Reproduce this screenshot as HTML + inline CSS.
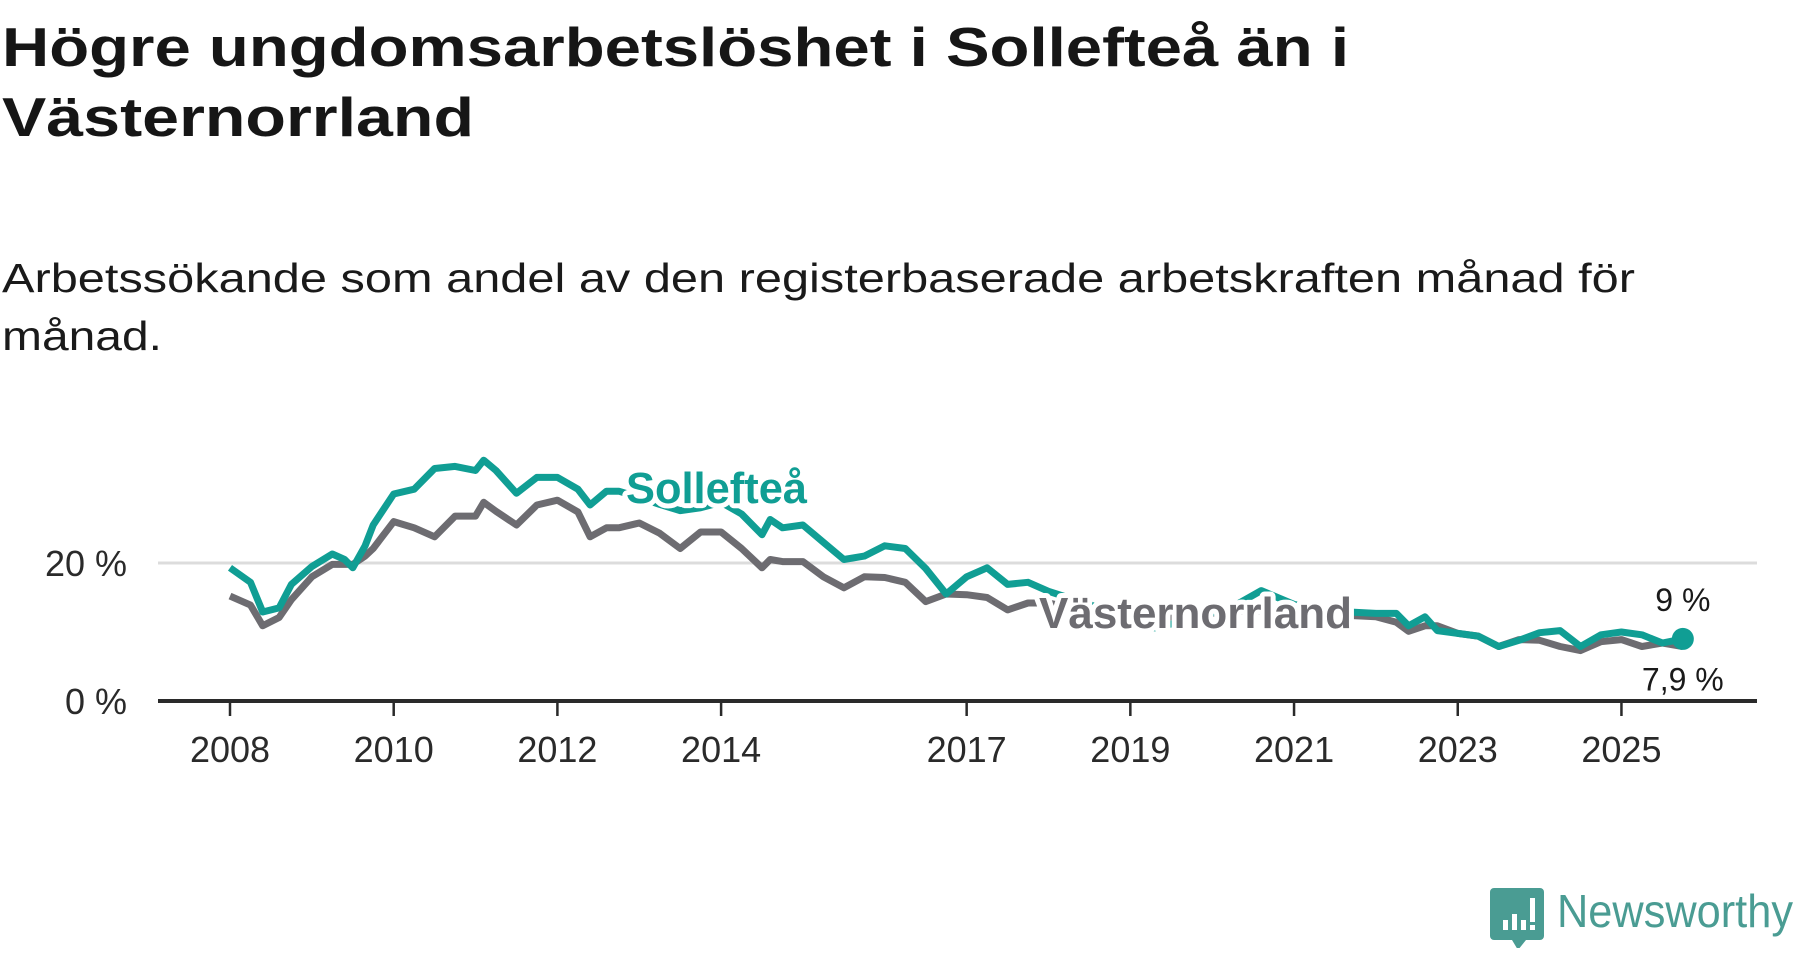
<!DOCTYPE html>
<html><head><meta charset="utf-8">
<style>
html,body{margin:0;padding:0;background:#fff;}
body{width:1800px;height:948px;overflow:hidden;font-family:"Liberation Sans",sans-serif;}
</style></head>
<body>
<svg width="1800" height="948" viewBox="0 0 1800 948" xmlns="http://www.w3.org/2000/svg" font-family="Liberation Sans, sans-serif">
<text x="2" y="66" font-size="55" font-weight="bold" fill="#161616" textLength="1347" lengthAdjust="spacingAndGlyphs">Högre ungdomsarbetslöshet i Sollefteå än i</text>
<text x="2" y="136" font-size="55" font-weight="bold" fill="#161616" textLength="472" lengthAdjust="spacingAndGlyphs">Västernorrland</text>
<text x="2" y="292" font-size="41" fill="#1a1a1a" textLength="1633" lengthAdjust="spacingAndGlyphs">Arbetssökande som andel av den registerbaserade arbetskraften månad för</text>
<text x="2" y="350" font-size="41" fill="#1a1a1a" textLength="160" lengthAdjust="spacingAndGlyphs">månad.</text>
<g id="plot"></g>
<g>
<path d="M1494 888 h46 a4 4 0 0 1 4 4 v44 a4 4 0 0 1 -4 4 h-14 l-8 10 l-6 -10 h-18 a4 4 0 0 1 -4 -4 v-44 a4 4 0 0 1 4 -4z" fill="#4a9c93"/>
<rect x="1503" y="920" width="5" height="10" fill="#fff"/><rect x="1512" y="914" width="5" height="16" fill="#fff"/><rect x="1521" y="920" width="5" height="10" fill="#fff"/><rect x="1530" y="898" width="5" height="24" fill="#fff"/><rect x="1530" y="925" width="5" height="5" fill="#fff"/>
<text x="1557" y="927" font-size="46" fill="#4a9c93" textLength="236" lengthAdjust="spacingAndGlyphs">Newsworthy</text>
</g>
</svg>
<script>
const dates=[2008,2008.25,2008.4,2008.6,2008.75,2009,2009.25,2009.4,2009.5,2009.65,2009.75,2010,2010.25,2010.5,2010.75,2011,2011.1,2011.25,2011.5,2011.75,2012,2012.25,2012.4,2012.6,2012.75,2013,2013.25,2013.5,2013.75,2014,2014.25,2014.5,2014.6,2014.75,2015,2015.25,2015.5,2015.75,2016,2016.25,2016.5,2016.75,2017,2017.25,2017.5,2017.75,2018,2018.5,2019,2019.3,2019.8,2020.3,2020.6,2021,2021.5,2022,2022.25,2022.4,2022.6,2022.75,2023,2023.25,2023.5,2023.75,2024,2024.25,2024.5,2024.75,2025,2025.25,2025.5,2025.75];
const solleftea=[19.3,17.2,12.9,13.5,16.9,19.5,21.3,20.5,19.3,22.5,25.5,30,30.7,33.7,34,33.4,34.9,33.4,30.1,32.4,32.4,30.7,28.4,30.4,30.4,29.5,28.5,27.6,28,28.8,27.1,24.1,26.3,25.1,25.5,23,20.5,21,22.5,22.1,19.2,15.5,18,19.3,16.9,17.2,15.9,14,11.5,10.6,12,14,16,14,13,12.7,12.7,10.9,12.2,10.2,9.8,9.4,7.9,8.8,9.9,10.2,7.9,9.6,10,9.6,8.4,9];
const vasternorrland=[15.2,13.9,10.9,12.1,14.7,18,19.8,19.8,19.8,21,22.1,26,25.1,23.8,26.8,26.8,28.8,27.5,25.5,28.4,29.1,27.4,23.8,25.1,25.1,25.8,24.3,22.1,24.5,24.5,22.1,19.3,20.5,20.2,20.2,18,16.4,18,17.9,17.2,14.4,15.5,15.4,15,13.2,14.2,14.2,13,12,12,12.5,13,13,12.5,12.5,12.2,11.4,10.1,10.9,10.9,9.8,9.4,7.9,8.9,8.8,7.9,7.3,8.6,8.9,7.9,8.4,7.9];
const xTicks=[2008,2010,2012,2014,2017,2019,2021,2023,2025];
const yTicks=[0,20];
const yTickLabels=["0 %","20 %"];
const NS="http://www.w3.org/2000/svg";
const X=t=>230+(t-2008)*81.85;
const Y=v=>701-v*6.9;
const plot=document.getElementById('plot');
function mk(tag,attrs,parent){const e=document.createElementNS(NS,tag);for(const k in attrs)e.setAttribute(k,attrs[k]);(parent||plot).appendChild(e);return e;}
yTicks.forEach((v,i)=>{
  if(v>0){const g=mk('line',{x1:158,x2:1757,y1:Y(v),y2:Y(v),stroke:'#dcdcdc','stroke-width':3});
  
  }
  const t=mk('text',{x:127,y:Y(v)+13,'font-size':36,'text-anchor':'end',fill:'#2a2a2a'});
  t.textContent=yTickLabels[i];
  
  
});
xTicks.forEach(yr=>{
  const l=mk('line',{x1:X(yr),x2:X(yr),y1:701,y2:716,stroke:'#2a2a2a','stroke-width':2.5});
  
  
  const t=mk('text',{x:X(yr),y:762,'font-size':36,'text-anchor':'middle',fill:'#2a2a2a'});
  t.textContent=yr;
  
  
});
const ax=mk('line',{x1:158,x2:1757,y1:701,y2:701,stroke:'#2a2a2a','stroke-width':4});


function line(vals,color,name){
  const d=vals.map((v,i)=>(i?'L':'M')+X(dates[i]).toFixed(1)+' '+Y(v).toFixed(1)).join(' ');
  const p=mk('path',{d:d,fill:'none',stroke:color,'stroke-width':7,'stroke-linejoin':'round'});
  
  
}
line(vasternorrland,'#6d6c71','line-vasternorrland');
line(solleftea,'#109e94','line-solleftea');
const n=dates.length-1;
const dot=mk('circle',{cx:X(dates[n]),cy:Y(solleftea[n]),r:11,fill:'#109e94'});


function lbl(txt,x,y,size,color,bold,name,anchor,len){
  const a={x:x,y:y,'font-size':size,fill:color,'font-weight':bold?'bold':'normal',stroke:'#fff','stroke-width':bold?10:6,'paint-order':'stroke','stroke-linejoin':'round','text-anchor':anchor||'start'};
  if(len){a.textLength=len;a.lengthAdjust='spacingAndGlyphs';}
  const t=mk('text',a);
  t.textContent=txt;
  
  
}
lbl('Sollefteå',626,503,44,'#109e94',true,'label-solleftea','start',181);
lbl('Västernorrland',1039,628,44,'#6d6c71',true,'label-vasternorrland','start',313);
lbl('9 %',X(dates[n]),Y(solleftea[n])-28,32,'#1a1a1a',false,'end-value-solleftea','middle');
lbl('7,9 %',X(dates[n]),Y(vasternorrland[n])+44,32,'#1a1a1a',false,'end-value-vasternorrland','middle');
</script>
</body></html>
